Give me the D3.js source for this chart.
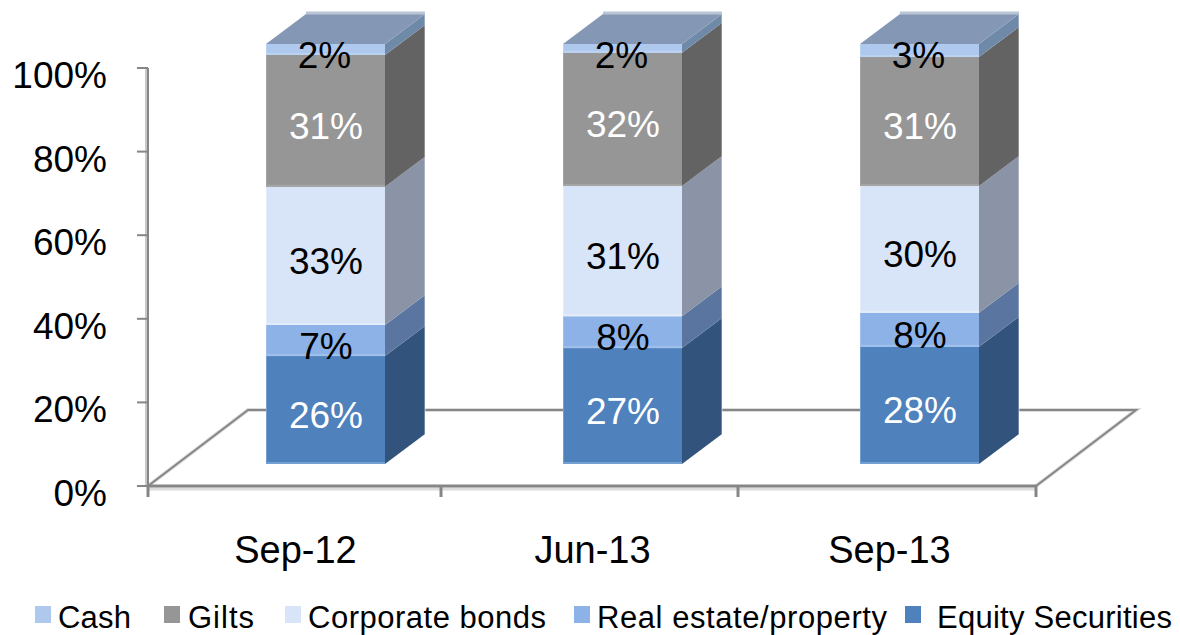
<!DOCTYPE html>
<html>
<head>
<meta charset="utf-8">
<script src="https://cdn.jsdelivr.net/npm/d3@7"></script>
<style>
  html, body { margin: 0; padding: 0; background: #fff; }
  text { font-family: "Liberation Sans", Arial, sans-serif; }
</style>
</head>
<body>
<svg id="chart" width="1180" height="635"></svg>
<script>
const categories = ['Sep-12', 'Jun-13', 'Sep-13'];
const seriesNames = ['Equity Securities', 'Real estate/property', 'Corporate bonds', 'Gilts', 'Cash'];
const yTicks = [0, 20, 40, 60, 80, 100];

// Heights, the labels are what the chart prints
const equity = [25.7, 27.6, 27.9];
const realEstate = [7.4, 7.6, 8.1];
const corporate = [32.9, 31.0, 30.2];
const gilts = [31.4, 31.7, 30.7];
const cash = [2.6, 2.1, 3.1];

const equityLabels = ['26%', '27%', '28%'];
const realEstateLabels = ['7%', '8%', '8%'];
const corporateLabels = ['33%', '31%', '30%'];
const giltsLabels = ['31%', '32%', '31%'];
const cashLabels = ['2%', '2%', '3%'];

const seriesValues = [equity, realEstate, corporate, gilts, cash];
const seriesLabels = [equityLabels, realEstateLabels, corporateLabels, giltsLabels, cashLabels];

const FRONT = ['#4f81bd', '#8cb2e8', '#d8e4f8', '#969696', '#afc9ee'];
const SIDE = ['#32547c', '#5a76a0', '#8a94a6', '#636363', '#6f8aa8'];
const EDGE = ['#73a0d0', '#a0c0ec', '#e4ecfa', '#a4a4a4', '#bcd2f2'];
const LABEL_COLORS = ['#fff', '#000', '#000', '#fff', '#000'];
const TOP_COLOR = '#8497b5';
const AXIS_COLOR = '#868686';

const DEPTH_X = 40;
const DEPTH_Y = 30;

const svg = d3.select('#chart');

const xScale = d3.scaleBand().domain(categories).range([148, 1039]);
const yAxisScale = d3.scaleLinear().domain([0, 100]).range([486, 68]);
const yBarScale = d3.scaleLinear().domain([0, 100]).range([464, 44]);
const barWidth = 119;
const barX = (cat) => xScale(cat) + xScale.bandwidth() / 2 + 29 - barWidth / 2;

function drawWalls()
{
    const g = svg.append('g').attr('fill', 'none').attr('stroke', AXIS_COLOR);
    const x0 = 148;
    const x1 = 1036;
    const y0 = yAxisScale(0);
    const fx = 100;
    const fy = 76;

    // floor outline
    const floor = d3.line()([[x0, y0], [x0 + fx, y0 - fy], [x1 + fx, y0 - fy], [x1, y0]]);
    g.append('path').attr('d', floor).attr('stroke', '#c4c4c4').attr('stroke-width', 4).attr('opacity', 0.6);
    g.append('path').attr('d', floor).attr('stroke-width', 2);

    // front-bottom axis and shadow
    g.append('line').attr('x1', x0).attr('x2', x1).attr('y1', y0 + 3).attr('y2', y0 + 3)
        .attr('stroke', '#dcdcdc').attr('stroke-width', 3);
    g.append('line').attr('x1', x0).attr('x2', x1).attr('y1', y0).attr('y2', y0).attr('stroke-width', 3);

    // y axis
    g.append('line').attr('x1', x0 - 1).attr('x2', x0 - 1).attr('y1', yAxisScale(100)).attr('y2', y0)
        .attr('stroke', '#c8c8c8').attr('stroke-width', 4);
    g.append('line').attr('x1', x0).attr('x2', x0).attr('y1', yAxisScale(100)).attr('y2', y0).attr('stroke-width', 2);

    // ticks
    g.selectAll('.ytick').data(yTicks).join('line')
        .attr('x1', x0 - 11).attr('x2', x0).attr('y1', (d) => yAxisScale(d)).attr('y2', (d) => yAxisScale(d))
        .attr('stroke-width', 2);
    const xTickPos = [x0, 441, 738, x1];
    g.selectAll('.xtick').data(xTickPos).join('line')
        .attr('x1', (d) => d).attr('x2', (d) => d).attr('y1', y0).attr('y2', y0 + 11)
        .attr('stroke-width', 3);

    svg.append('g').selectAll('text').data(yTicks).join('text')
        .attr('x', 107).attr('y', (d) => yAxisScale(d) + 20)
        .attr('text-anchor', 'end').attr('font-size', 37).attr('fill', '#000')
        .text((d) => `${ d }%`);

    svg.append('g').selectAll('text').data(categories).join('text')
        .attr('x', (d) => xScale(d) + xScale.bandwidth() / 2 - 1).attr('y', 563)
        .attr('text-anchor', 'middle').attr('font-size', 38).attr('fill', '#000')
        .text((d) => d);
}

function drawBars()
{
    categories.forEach((cat, c) =>
    {
        const x = barX(cat);
        const g = svg.append('g');
        let base = 0;

        seriesValues.forEach((values, s) =>
        {
            const top = base + values[c];
            const yTop = yBarScale(top);
            const yBase = yBarScale(base);

            g.append('polygon')
                .attr('points', [[x + barWidth, yBase], [x + barWidth + DEPTH_X, yBase - DEPTH_Y],
                    [x + barWidth + DEPTH_X, yTop - DEPTH_Y], [x + barWidth, yTop]].join(' '))
                .attr('fill', SIDE[s]);
            g.append('rect')
                .attr('x', x).attr('y', yTop).attr('width', barWidth).attr('height', yBase - yTop)
                .attr('fill', FRONT[s]);
            g.append('line')
                .attr('x1', x).attr('x2', x + barWidth).attr('y1', yBase - 1).attr('y2', yBase - 1)
                .attr('stroke', EDGE[s]).attr('stroke-width', 2);
            // lighter rims on the left of the front and the right of the side
            g.append('line')
                .attr('x1', x + 0.5).attr('x2', x + 0.5).attr('y1', yTop).attr('y2', yBase)
                .attr('stroke', EDGE[s]).attr('stroke-width', 1);
            g.append('line')
                .attr('x1', x + barWidth + DEPTH_X).attr('x2', x + barWidth + DEPTH_X)
                .attr('y1', yTop - DEPTH_Y).attr('y2', yBase - DEPTH_Y)
                .attr('stroke', '#fff').attr('stroke-opacity', 0.3).attr('stroke-width', 2);
            base = top;
        });

        const yEnd = yBarScale(base);
        g.append('polygon')
            .attr('points', [[x, yEnd], [x + DEPTH_X, yEnd - DEPTH_Y],
                [x + barWidth + DEPTH_X, yEnd - DEPTH_Y], [x + barWidth, yEnd]].join(' '))
            .attr('fill', TOP_COLOR);
        g.append('line')
            .attr('x1', x + DEPTH_X).attr('x2', x + barWidth + DEPTH_X)
            .attr('y1', yEnd - DEPTH_Y - 1).attr('y2', yEnd - DEPTH_Y - 1)
            .attr('stroke', '#b9c4d6').attr('stroke-width', 3);

        // labels go on top of everything, cash label overflows onto the top face
        base = 0;
        seriesValues.forEach((values, s) =>
        {
            const mid = base + values[c] / 2;
            g.append('text')
                .attr('x', x + barWidth / 2 - (s === 4 ? 1 : -0.5))
                .attr('y', s === 4 ? yBarScale(base + values[c]) + 24 : yBarScale(mid) + 18)
                .attr('text-anchor', 'middle').attr('font-size', 37)
                .attr('fill', LABEL_COLORS[s])
                .text(seriesLabels[s][c]);
            base += values[c];
        });
    });
}

function drawLegend()
{
    const order = [4, 3, 2, 1, 0];
    const swatchX = [35, 164, 285, 574, 905];
    const textX = [58, 188, 308, 597, 937];
    const textW = [73, 66, 238, 290, 235];
    const g = svg.append('g');
    order.forEach((s, i) =>
    {
        g.append('rect').attr('x', swatchX[i]).attr('y', 606).attr('width', 16).attr('height', 17)
            .attr('fill', FRONT[s]);
        g.append('text').attr('x', textX[i]).attr('y', 628).attr('font-size', 31).attr('fill', '#000')
            .attr('textLength', textW[i]).attr('lengthAdjust', 'spacing')
            .text(seriesNames[s]);
    });
}

drawWalls();
drawBars();
drawLegend();
</script>
</body>
</html>
